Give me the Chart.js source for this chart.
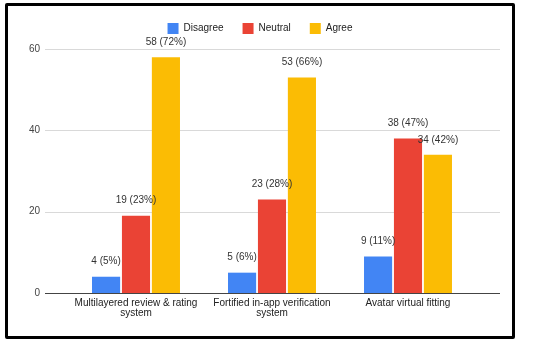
<!DOCTYPE html>
<html>
<head>
<meta charset="utf-8">
<script src="https://cdn.jsdelivr.net/npm/chart.js@4/dist/chart.umd.min.js"></script>
<style>
  html, body { margin: 0; padding: 0; background: #fff; }
  #frame {
    position: absolute; left: 5px; top: 3px;
    width: 504px; height: 330px;
    border: 3px solid #000; border-radius: 2px;
  }
  #frame canvas { display: block; }
</style>
</head>
<body>
<div id="frame"><canvas id="chart"></canvas></div>
<script>
const categories = [
    ['Multilayered review & rating', 'system'],
    ['Fortified in-app verification', 'system'],
    'Avatar virtual fitting'
];
const seriesNames = ['Disagree', 'Neutral', 'Agree'];
const disagree = [4, 5, 9];
const neutral = [19, 23, 38];
const agree = [58, 53, 34];
const disagreePct = [5, 6, 11];
const neutralPct = [23, 28, 47];
const agreePct = [72, 66, 42];
const yTicks = [0, 20, 40, 60];

Chart.defaults.font.family = '"Liberation Sans", Arial, sans-serif';
Chart.defaults.font.size = 10;

// horizontal grid, a bit wider than the plot like the google chart
const gridLines = {
    id: 'gridLines',
    beforeDatasetsDraw(chart) {
        const {ctx, chartArea, scales} = chart;
        ctx.save();
        ctx.lineWidth = 1;
        yTicks.forEach(v => {
            const y = Math.round(scales.y.getPixelForValue(v)) + 0.5;
            ctx.strokeStyle = v === 0 ? '#444' : '#d9d9d9';
            ctx.beginPath();
            ctx.moveTo(chartArea.left - 23, y);
            ctx.lineTo(chartArea.right + 24, y);
            ctx.stroke();
        });
        ctx.restore();
    }
};

const barLabels = {
    id: 'barLabels',
    afterDatasetsDraw(chart) {
        const {ctx} = chart;
        ctx.save();
        ctx.font = '10px "Liberation Sans", Arial, sans-serif';
        ctx.fillStyle = '#333';
        ctx.textAlign = 'center';
        ctx.textBaseline = 'middle';
        chart.data.datasets.forEach((ds, i) => {
            chart.getDatasetMeta(i).data.forEach((bar, j) => {
                ctx.fillText(ds.data[j] + ' (' + ds.pct[j] + '%)', bar.x, bar.y - 15);
            });
        });
        ctx.restore();
    }
};

new Chart(document.getElementById('chart'), {
    type: 'bar',
    data: {
        labels: categories,
        datasets: [
            {label: seriesNames[0], data: disagree, pct: disagreePct, backgroundColor: '#4285F4'},
            {label: seriesNames[1], data: neutral, pct: neutralPct, backgroundColor: '#EA4335'},
            {label: seriesNames[2], data: agree, pct: agreePct, backgroundColor: '#FBBC04'}
        ]
    },
    options: {
        responsive: true,
        maintainAspectRatio: false,
        animation: false,
        categoryPercentage: 0.66,
        barPercentage: 0.94,
        layout: {padding: {top: -2, right: 0, bottom: 0, left: 0}},
        plugins: {
            legend: {
                labels: {boxWidth: 11, boxHeight: 11, padding: 19, color: '#222'}
            },
            // small spacer between legend and plot
            subtitle: {display: true, text: '', font: {size: 4.2}, padding: 0, weight: 500},
            tooltip: {enabled: false}
        },
        scales: {
            x: {
                grid: {display: false, drawTicks: false},
                border: {display: false},
                ticks: {color: '#222', padding: 5, maxRotation: 0, autoSkip: false, font: {lineHeight: 1.0}},
                afterFit(scale) { scale.height = 43; }
            },
            y: {
                min: 0,
                max: 60,
                grid: {display: false, drawTicks: false},
                border: {display: false},
                ticks: {stepSize: 20, color: '#444', padding: 28},
                afterFit(scale) { scale.width = 60; }
            },
            // empty right axis only to keep space on the right
            yRight: {
                position: 'right',
                grid: {display: false, drawTicks: false},
                border: {display: false},
                ticks: {display: false},
                afterFit(scale) { scale.width = 36; }
            }
        }
    },
    plugins: [gridLines, barLabels]
});
</script>
</body>
</html>
